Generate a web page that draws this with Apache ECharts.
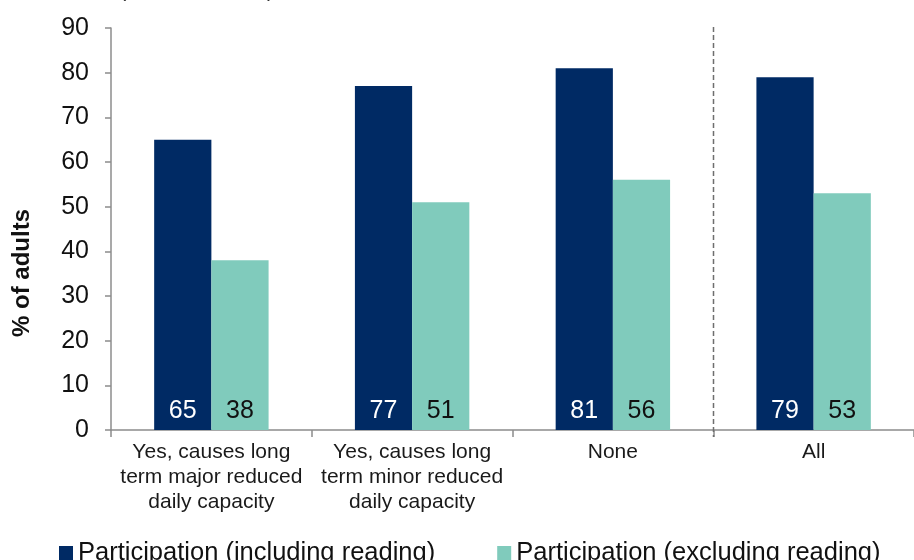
<!DOCTYPE html>
<html>
<head>
<meta charset="utf-8">
<script src="https://cdn.jsdelivr.net/npm/echarts@6/dist/echarts.min.js"></script>
<style>
  html, body { margin: 0; padding: 0; background: #fff; }
  #chart { width: 914px; height: 560px; }
</style>
</head>
<body>
<div id="chart"></div>
<script>
// Participation by long-term illness / disability status
const categories = [
  'Yes, causes long\nterm major reduced\ndaily capacity',
  'Yes, causes long\nterm minor reduced\ndaily capacity',
  'None',
  'All'
];
const seriesNames = ['Participation (including reading)', 'Participation (excluding reading)'];
const includingReading = [65, 77, 81, 79];
const excludingReading = [38, 51, 56, 53];
const yTicks = { min: 0, max: 90, interval: 10 };

const FONT = '"Liberation Sans", Arial, sans-serif';
const NAVY = '#002a64';
const TEAL = '#80cbbc';
const AXIS_GREY = '#8c8c8c';

const chart = echarts.init(document.getElementById('chart'), null, { renderer: 'canvas' });

function barLabel(color) {
  return {
    show: true,
    position: 'insideBottom',
    distance: 6,
    color: color,
    fontFamily: FONT,
    fontSize: 25,
    formatter: p => Math.round(p.value)
  };
}

chart.setOption({
  animation: false,
  backgroundColor: '#ffffff',
  textStyle: { fontFamily: FONT },
  grid: { left: 111, top: 28, width: 812, bottom: 130, containLabel: false },
  legend: {
    left: 54,
    top: 535,
    icon: 'rect',
    itemWidth: 14,
    itemHeight: 14,
    itemGap: 62,
    textStyle: { fontFamily: FONT, fontSize: 25.5, color: '#111' },
    data: seriesNames
  },
  xAxis: {
    type: 'category',
    data: categories,
    axisLine: { lineStyle: { color: AXIS_GREY, width: 1.5 } },
    axisTick: { show: true, length: 7, lineStyle: { color: AXIS_GREY, width: 1.5 } },
    axisLabel: {
      margin: 10,
      fontFamily: FONT,
      fontSize: 21,
      lineHeight: 25,
      color: '#1a1a1a',
      interval: 0
    }
  },
  yAxis: {
    type: 'value',
    min: yTicks.min,
    max: yTicks.max,
    interval: yTicks.interval,
    splitLine: { show: false },
    axisLine: { show: true, lineStyle: { color: AXIS_GREY, width: 1.5 } },
    axisTick: { show: true, length: 6, lineStyle: { color: AXIS_GREY, width: 1.5 } },
    axisLabel: { margin: 22, fontFamily: FONT, fontSize: 25, color: '#111' }
  },
  series: [
    {
      name: seriesNames[0],
      type: 'bar',
      data: includingReading,
      barGap: '0%',
      barCategoryGap: '43%',
      itemStyle: { color: NAVY },
      label: barLabel('#ffffff')
    },
    {
      name: seriesNames[1],
      type: 'bar',
      data: excludingReading,
      barGap: '0%',
      barCategoryGap: '43%',
      itemStyle: { color: TEAL },
      label: barLabel('#111111')
    }
  ]
});

// Dashed separator between the breakdown groups and the overall "All" group
const xNone = chart.convertToPixel({ xAxisIndex: 0 }, 'None');
const xAll = chart.convertToPixel({ xAxisIndex: 0 }, 'All');
const sepX = Math.round((xNone + xAll) / 2) + 0.5;
const yTop = chart.convertToPixel({ yAxisIndex: 0 }, yTicks.max);
const yBase = chart.convertToPixel({ yAxisIndex: 0 }, yTicks.min);

chart.setOption({
  graphic: [
    {
      type: 'line',
      shape: { x1: sepX, y1: yTop - 1, x2: sepX, y2: yBase + 7 },
      style: { stroke: '#6e6e6e', lineWidth: 1.5, lineDash: [5, 3] },
      z: 10
    },
    {
      type: 'text',
      x: 22,
      y: 273,
      rotation: Math.PI / 2,
      style: {
        text: '% of adults',
        font: 'bold 24px ' + FONT,
        fill: '#111',
        align: 'center',
        verticalAlign: 'middle'
      }
    },
    // lower edge of the subtitle brackets running off the top of the canvas
    {
      type: 'text',
      x: 119,
      y: 1,
      style: { text: '(', font: '22px ' + FONT, fill: '#333', verticalAlign: 'bottom' }
    },
    {
      type: 'text',
      x: 267,
      y: 1,
      style: { text: ')', font: '22px ' + FONT, fill: '#333', verticalAlign: 'bottom' }
    }
  ]
});
</script>
</body>
</html>
